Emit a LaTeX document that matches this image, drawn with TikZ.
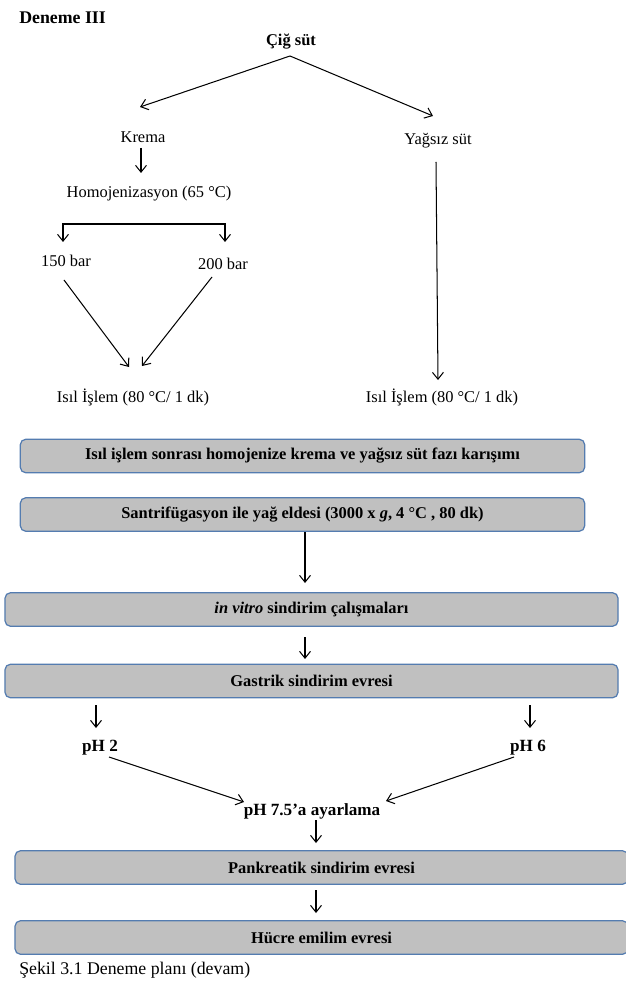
\documentclass[tikz,border=0pt,12pt]{standalone}
\usepackage{fontspec}
\setmainfont{Liberation Serif}
\usepackage{tikz}
\usetikzlibrary{arrows.meta}
\definecolor{boxgray}{RGB}{192,192,192}
\definecolor{boxedge}{RGB}{84,124,176}

\tikzset{
  barb/.tip={Straight Barb[length=5pt,width=8pt]},
  arr/.style={-barb, line width=0.75pt},
  arrboth/.style={barb-barb, line width=0.75pt},
  lbl/.style={inner sep=0pt},
  phlbl/.style={inner sep=0pt, font=\fontsize{12.5}{15}\selectfont\bfseries},
  stage/.style={rectangle, rounded corners=4pt, draw=boxedge, fill=boxgray,
    line width=0.9pt, minimum height=24.5pt, inner sep=0pt, font=\bfseries}
}

\begin{document}
\begin{tikzpicture}[x=0.73pt, y=-0.73pt]
    \useasboundingbox (0,0) rectangle (625,1005);

    % Upper part: raw milk split into cream and skim milk
    \node[lbl, anchor=west, font=\fontsize{13}{15}\selectfont\bfseries] (deneme) at (19,18) {Deneme III};
    \node[lbl, font=\bfseries] (cig) at (291,42) {Çiğ süt};
    \node[lbl] (krema) at (143,137) {Krema};
    \node[lbl] (yagsiz) at (438,141) {Yağsız süt};
    \node[lbl] (homo) at (149,194) {Homojenizasyon (65 °C)};
    \node[lbl] (b150) at (66,261) {150 bar};
    \node[lbl] (b200) at (223,264) {200 bar};
    \node[lbl] (isil1) at (133,397) {Isıl İşlem (80 °C/ 1 dk)};
    \node[lbl] (isil2) at (442,397) {Isıl İşlem (80 °C/ 1 dk)};

    % Grey process boxes
    \node[stage, minimum width=412pt] (karisim) at (302.5,456) {Isıl işlem sonrası homojenize krema ve yağsız süt fazı karışımı};
    \node[stage, minimum width=412pt] (santri) at (302.5,514.5) {Santrifügasyon ile yağ eldesi (3000 x \textit{g}, 4 °C , 80 dk)};
    \node[stage, minimum width=447.5pt] (invitro) at (311.5,609.5) {\textit{in vitro} sindirim çalışmaları};
    \node[stage, minimum width=447.5pt] (gastrik) at (311.5,681) {Gastrik sindirim evresi};
    \node[phlbl] (ph2) at (100,748) {pH 2};
    \node[phlbl] (ph6) at (528,748) {pH 6};
    \node[phlbl] (ph75) at (312,811) {pH 7.5’a ayarlama};
    \node[stage, minimum width=447.5pt] (pankreatik) at (321.5,867.5) {Pankreatik sindirim evresi};
    \node[stage, minimum width=447.5pt] (hucre) at (321.5,937.5) {Hücre emilim evresi};
    \node[lbl, anchor=west, font=\fontsize{13}{15}\selectfont] (sekil) at (19,970) {Şekil 3.1 Deneme planı (devam)};

    % Arrow ends
    \coordinate (fork) at (290,56);
    \coordinate (kremaIn) at (140,107);
    \coordinate (yagsizIn) at (433,116);
    \coordinate (kremaOut) at (141,148);
    \coordinate (homoIn) at (141,173);
    \coordinate (b150In) at (63,242);
    \coordinate (b200In) at (225,242);
    \coordinate (b150Out) at (64,280);
    \coordinate (b200Out) at (212,277);
    \coordinate (isil1L) at (129,367);
    \coordinate (isil1R) at (142,366);
    \coordinate (yagsizOut) at (436,162);
    \coordinate (isil2In) at (438,380);
    \coordinate (santriOut) at (305,532);
    \coordinate (invitroIn) at (305,583);
    \coordinate (invitroOut) at (305,637);
    \coordinate (gastrikIn) at (305,659);
    \coordinate (gastrikL) at (96,705);
    \coordinate (ph2In) at (96,728);
    \coordinate (gastrikR) at (530,705);
    \coordinate (ph6In) at (530,728);
    \coordinate (ph2Out) at (109,757);
    \coordinate (ph75L) at (244,802);
    \coordinate (ph6Out) at (514,757);
    \coordinate (ph75R) at (386,801);
    \coordinate (ph75Out) at (316,820);
    \coordinate (pankIn) at (316,843);
    \coordinate (pankOut) at (316,890);
    \coordinate (hucreIn) at (316,913);

    % Connectors
    \draw[arr] (fork) -- (kremaIn);
    \draw[arr] (fork) -- (yagsizIn);
    \draw[arr] (kremaOut) -- (homoIn);
    \draw[arrboth] (b150In) -- ++(0,-18) -| (b200In);
    \draw[arr] (b150Out) -- (isil1L);
    \draw[arr] (b200Out) -- (isil1R);
    \draw[arr] (yagsizOut) -- (isil2In);
    \draw[arr] (santriOut) -- (invitroIn);
    \draw[arr] (invitroOut) -- (gastrikIn);
    \draw[arr] (gastrikL) -- (ph2In);
    \draw[arr] (gastrikR) -- (ph6In);
    \draw[arr] (ph2Out) -- (ph75L);
    \draw[arr] (ph6Out) -- (ph75R);
    \draw[arr] (ph75Out) -- (pankIn);
    \draw[arr] (pankOut) -- (hucreIn);
\end{tikzpicture}
\end{document}
